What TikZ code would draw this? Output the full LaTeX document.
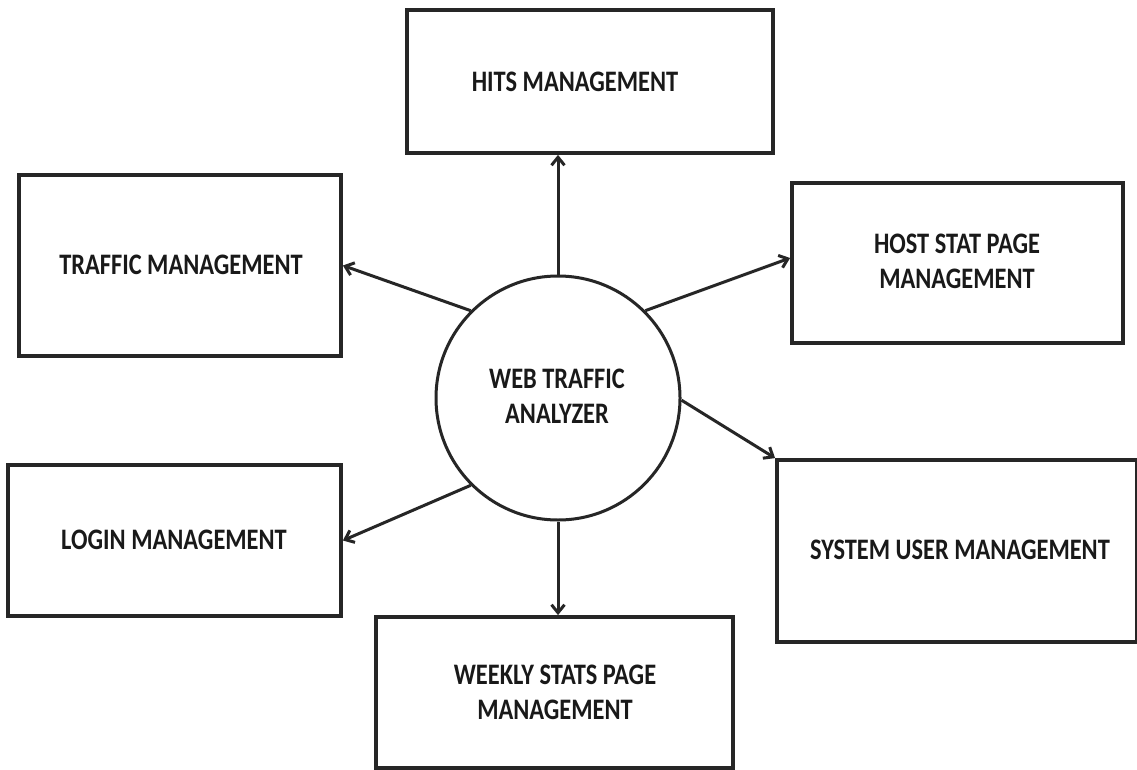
\documentclass[tikz,border=0pt]{standalone}
\usepackage{fontspec}
\setmainfont{Carlito}
\usetikzlibrary{arrows.meta}
\newcommand{\vtext}[1]{\scalebox{1}[1.22]{\begin{tabular}{@{}c@{}}#1\end{tabular}}}
\tikzset{
  boxnode/.style={draw=black!85, line width=3.8pt, rectangle, inner sep=0pt},
  lbl/.style={font=\bfseries\fontsize{24.4}{29}\selectfont, text=black!90, inner sep=0pt},
  conn/.style={draw=black!85, line width=3pt, -{Straight Barb[length=8pt,width=13pt]}},
}
\begin{document}
\begin{tikzpicture}[x=1pt,y=-1pt]
\useasboundingbox[fill=white] (0,0) rectangle (1137,770);
% boxes
\node[boxnode, minimum width=366pt, minimum height=143pt] (hits) at (590,81.5) {};
\node[boxnode, minimum width=322pt, minimum height=181pt] (traffic) at (180,265.5) {};
\node[boxnode, minimum width=331pt, minimum height=160pt] (host) at (957.5,263) {};
\node[boxnode, minimum width=333pt, minimum height=151pt] (login) at (174.5,540.5) {};
\node[boxnode, minimum width=360pt, minimum height=182pt] (system) at (957,551) {};
\node[boxnode, minimum width=357pt, minimum height=151pt] (weekly) at (554.5,692.5) {};
\node[draw=black!85, line width=3pt, circle, minimum size=244pt, inner sep=0pt] (c) at (558,398) {};
% labels
\node[lbl] (thits) at (575,84) {\vtext{HITS MANAGEMENT}};
\node[lbl] (ttraffic) at (181,267) {\vtext{TRAFFIC MANAGEMENT}};
\node[lbl] (thost) at (957,264) {\vtext{HOST STAT PAGE\\MANAGEMENT}};
\node[lbl] (tlogin) at (174,542) {\vtext{LOGIN MANAGEMENT}};
\node[lbl] (tsystem) at (960,552) {\vtext{SYSTEM USER MANAGEMENT}};
\node[lbl] (tweekly) at (555,695) {\vtext{WEEKLY STATS PAGE\\MANAGEMENT}};
\node[lbl] (tc) at (557,399) {\vtext{WEB TRAFFIC\\ANALYZER}};
% connectors
\draw[conn] (c.north) -- (c.north |- hits.south);
\draw[conn] (c.135) -- (traffic.east);
\draw[conn] (c.45) -- ([yshift=5pt]host.west);
\draw[conn] (c.-1) -- (system.north west);
\draw[conn] (c.225) -- (login.east);
\draw[conn] (c.south) -- (c.south |- weekly.north);
\end{tikzpicture}
\end{document}
